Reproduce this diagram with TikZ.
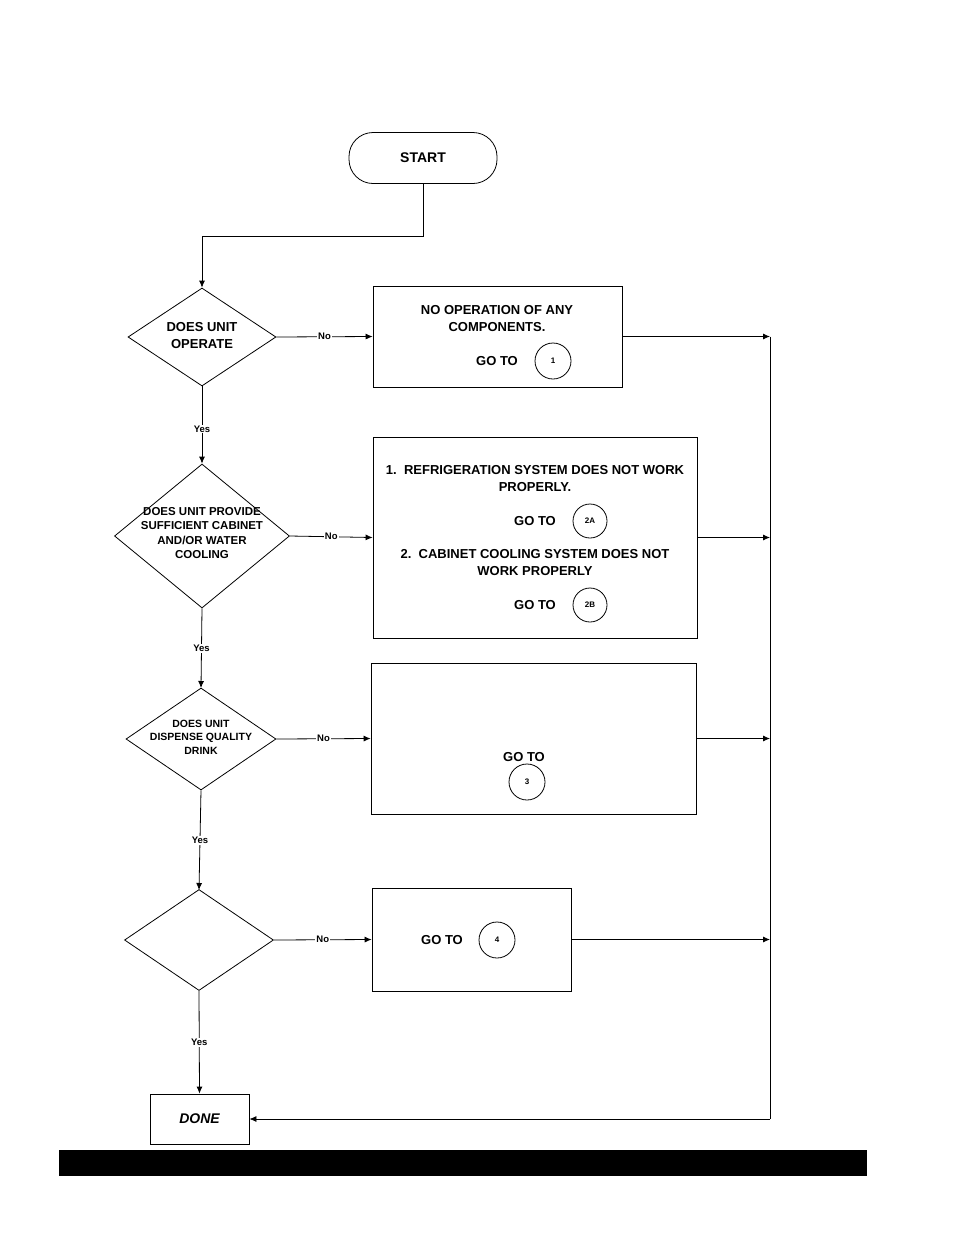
\documentclass[tikz,border=0pt]{standalone}
\usepackage{fontspec}
\setmainfont{Liberation Sans}
\usetikzlibrary{shapes.geometric,arrows.meta}
\begin{document}
\begin{tikzpicture}[x=1pt,y=-1pt,
  every node/.style={font=\bfseries\fontsize{13}{17}\selectfont},
  dia/.style={draw,thick,diamond,inner sep=0pt},
  dtxt/.style={align=center,inner sep=0pt,font=\bfseries\fontsize{11.5}{14.5}\selectfont},
  box/.style={draw,thick,rectangle,inner sep=0pt},
  circ/.style={draw,thick,circle,minimum size=34pt,inner sep=0pt,font=\bfseries\fontsize{8}{9}\selectfont},
  lbl/.style={fill=white,inner sep=1pt,font=\bfseries\fontsize{9.5}{10}\selectfont},
  arr/.style={thick,-{Latex[length=7pt,width=6pt]}},
  ln/.style={thick}]
\useasboundingbox (0,0) rectangle (954,1235);
\fill[white] (0,0) rectangle (954,1235);
% start
\node[box,rounded corners=24pt,minimum width=148pt,minimum height=51pt,font=\bfseries\fontsize{14}{16}\selectfont] (start) at (423,158) {START};
% diamonds
\node[dia,minimum width=148pt,minimum height=98pt] (d1) at (202,337) {};
\node[dtxt,font=\bfseries\fontsize{13}{17}\selectfont] (d1t) at (202,336) {DOES UNIT\\OPERATE};
\node[dia,minimum width=175pt,minimum height=144pt] (d2) at (202,536) {};
\node[dtxt] (d2t) at (202,533) {DOES UNIT PROVIDE\\SUFFICIENT CABINET\\AND/OR WATER\\COOLING};
\node[dia,minimum width=150pt,minimum height=102pt] (d3) at (201,739) {};
\node[dtxt,font=\bfseries\fontsize{10.5}{13.5}\selectfont] (d3t) at (201,737) {DOES UNIT\\DISPENSE QUALITY\\DRINK};
\node[dia,minimum width=149pt,minimum height=101pt] (d4) at (199,940) {};
% boxes
\node[box,minimum width=249pt,minimum height=101pt] (b1) at (497.5,336.5) {};
\node[box,minimum width=324pt,minimum height=201pt] (b2) at (535,537.5) {};
\node[box,minimum width=325pt,minimum height=151pt] (b3) at (533.5,738.5) {};
\node[box,minimum width=199pt,minimum height=103pt] (b4) at (471.5,939.5) {};
\node[box,minimum width=99pt,minimum height=50pt,font=\itshape\bfseries\fontsize{14}{16}\selectfont] (done) at (199.5,1119) {DONE};
% box texts
\node (t1a) at (497,310) {NO OPERATION OF ANY};
\node (t1b) at (497,327) {COMPONENTS.};
\node (g1) at (497,361) {GO TO};
\node[circ,minimum size=36pt] (c1) at (553,361) {1};
\node (t2a) at (535,470) {1.\ \ REFRIGERATION SYSTEM DOES NOT WORK};
\node (t2b) at (535,487) {PROPERLY.};
\node (g2a) at (535,521) {GO TO};
\node[circ] (c2a) at (590,521) {2A};
\node (t2c) at (535,554) {2.\ \ CABINET COOLING SYSTEM DOES NOT};
\node (t2d) at (535,571) {WORK PROPERLY};
\node (g2b) at (535,605) {GO TO};
\node[circ] (c2b) at (590,605) {2B};
\node (g3) at (524,757) {GO TO};
\node[circ,minimum size=36pt] (c3) at (527,782) {3};
\node (g4) at (442,940) {GO TO};
\node[circ,minimum size=36pt] (c4) at (497,940) {4};
% flow
\coordinate (s1) at (423,236);
\coordinate (s2) at (202,236);
\draw[ln] (start.south) -- (s1) -- (s2);
\draw[arr] (s2) -- (d1.north);
\draw[arr] (d1.east) -- node[lbl]{No} (b1.west);
\draw[arr] (d2.east) -- node[lbl]{No} (b2.west);
\draw[arr] (d3.east) -- node[lbl]{No} (b3.west);
\draw[arr] (d4.east) -- node[lbl]{No} (b4.west);
\draw[arr] (d1.south) -- node[lbl,pos=0.55]{Yes} (d2.north);
\draw[arr] (d2.south) -- node[lbl,pos=0.5]{Yes} (201,688);
\draw[arr] (d3.south) -- node[lbl,pos=0.5]{Yes} (199,890);
\draw[arr] (d4.south) -- node[lbl,pos=0.5]{Yes} (done.north);
% right collector
\coordinate (r1) at (770,336.5);
\coordinate (r2) at (770,537.5);
\coordinate (r3) at (770,738.5);
\coordinate (r4) at (770,939.5);
\coordinate (r5) at (770,1119);
\draw[arr] (b1.east) -- (r1);
\draw[arr] (b2.east) -- (r2);
\draw[arr] (b3.east) -- (r3);
\draw[arr] (b4.east) -- (r4);
\draw[ln] (r1) -- (r5);
\draw[arr] (r5) -- (done.east);
% bottom bar
\fill[black] (59,1150) rectangle (867,1176);
\end{tikzpicture}
\end{document}
